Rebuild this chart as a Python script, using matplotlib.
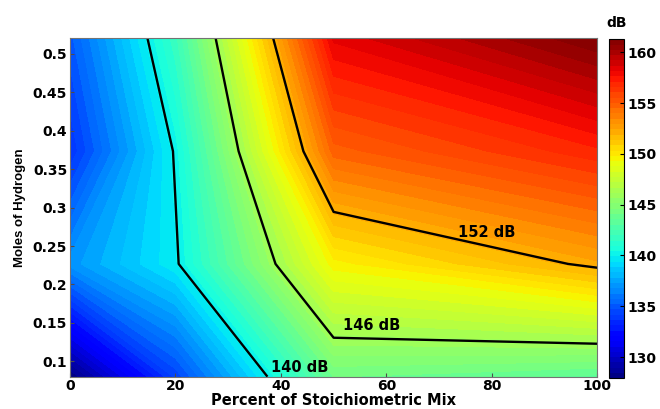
import numpy as np
import matplotlib
matplotlib.use("Agg")
import matplotlib.pyplot as plt
from matplotlib.ticker import FuncFormatter

plt.rcParams['font.family'] = ['DejaVu Sans']
plt.rcParams['font.weight'] = 'bold'

# grid
pct_mix = [0, 20, 50, 100]
h2_moles = [0.08, 0.2267, 0.3733, 0.52]
spl_db = [
    [127.9, 134.3, 144.1, 143.4],
    [137.0, 139.8, 149.6, 152.3],
    [133.7, 140.15, 154.8, 157.0],
    [135.0, 141.8, 158.3, 161.3],
]
line_levels = [140, 146, 152]
line_labels = ['140 dB', '146 dB', '152 dB']
label_xy = [(43.5, 0.0925), (57.2, 0.147), (79.0, 0.267)]
cbar_ticks = [130, 135, 140, 145, 150, 155, 160]

X, Y = np.meshgrid(pct_mix, h2_moles)
Z = np.array(spl_db)

fig = plt.figure(figsize=(6.6, 4.09), dpi=100)
ax = fig.add_axes([0.106, 0.079, 0.799, 0.827])
cax = fig.add_axes([0.9227, 0.075, 0.0232, 0.829])

levels = np.linspace(Z.min(), Z.max(), 65)
cf = ax.contourf(X, Y, Z, levels=levels, cmap='jet')
ax.contour(X, Y, Z, levels=line_levels, colors='black', linewidths=1.7)

for txt, (tx, ty) in zip(line_labels, label_xy):
    ax.text(tx, ty, txt, fontsize=10.5, fontweight='bold', ha='center', va='center')

ax.set_xlim(0, 100)
ax.set_ylim(min(h2_moles), max(h2_moles))
ax.set_xticks([0, 20, 40, 60, 80, 100])
ax.set_yticks([0.1, 0.15, 0.2, 0.25, 0.3, 0.35, 0.4, 0.45, 0.5])
ax.yaxis.set_major_formatter(FuncFormatter(lambda v, p: '%g' % v))
ax.tick_params(direction='in', length=3, labelsize=10, pad=2, color='0.3')
for s in ax.spines.values():
    s.set_color('0.45')
    s.set_linewidth(0.8)
ax.set_xlabel('Percent of Stoichiometric Mix', fontsize=10.5, fontweight='bold', labelpad=0)
ax.set_ylabel('Moles of Hydrogen', fontsize=9.5, fontweight='bold',
              family=['Liberation Sans', 'DejaVu Sans'], labelpad=5)

cb = fig.colorbar(cf, cax=cax, ticks=cbar_ticks)
cb.ax.tick_params(direction='in', length=3, labelsize=10, pad=2)
cb.outline.set_linewidth(0.8)
cax.set_title('dB', fontsize=10, fontweight='bold', pad=9)

fig.savefig('out.png', dpi=100)
